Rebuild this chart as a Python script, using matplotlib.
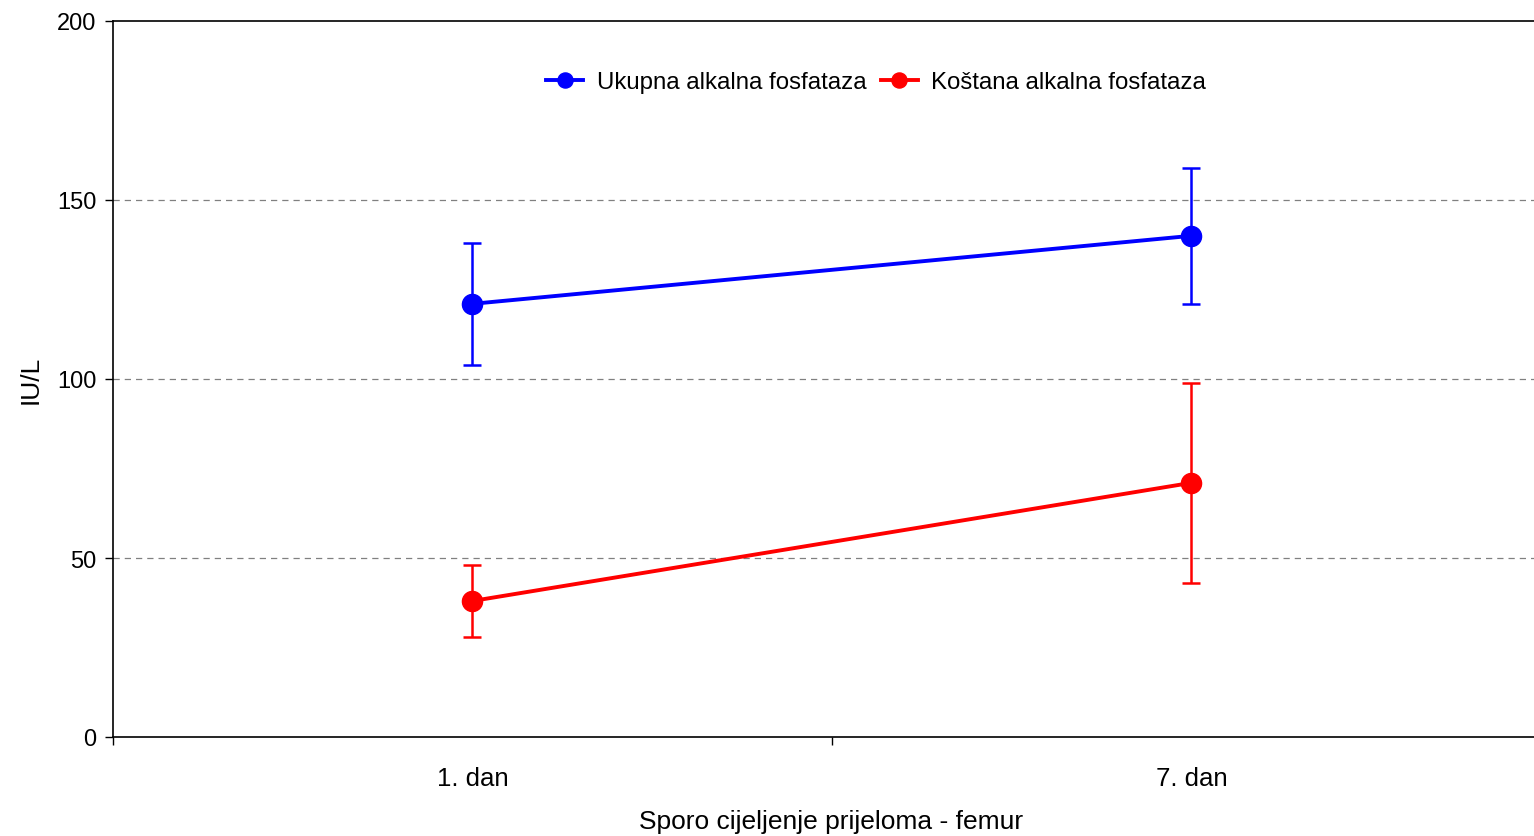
import matplotlib
matplotlib.use("Agg")
import matplotlib.pyplot as plt

categories = ["1. dan", "7. dan"]
ukupna = [121, 140]
ukupna_err_low = [104, 121]
ukupna_err_high = [138, 159]
kostana = [38, 71]
kostana_err_low = [28, 43]
kostana_err_high = [48, 99]

plt.rcParams["font.family"] = ["Liberation Sans", "DejaVu Sans"]

W, H = 1534, 837
fig = plt.figure(figsize=(W / 100, H / 100), dpi=100)
ax = fig.add_axes([113 / W, (H - 738) / H, (1551 - 113) / W, (738 - 22) / H])

x = [0.5, 1.5]
series = [
    ("Ukupna alkalna fosfataza", ukupna, ukupna_err_low, ukupna_err_high, "#0000ff"),
    ("Koštana alkalna fosfataza", kostana, kostana_err_low, kostana_err_high, "#ff0000"),
]
for label, vals, lo, hi, color in series:
    yerr = [[v - l for v, l in zip(vals, lo)], [h - v for v, h in zip(vals, hi)]]
    ax.errorbar(x, vals, yerr=yerr, fmt="none", ecolor=color, elinewidth=1.8,
                capsize=6.5, capthick=1.8, zorder=2)
    ax.plot(x, vals, color=color, lw=2.8, marker="o", markersize=14.5, label=label, zorder=3)

ax.set_xlim(0, 2)
ax.set_ylim(0, 200)
ax.set_yticks([0, 50, 100, 150, 200])
ax.set_xticks([0, 1, 2])
ax.set_xticklabels([])
ax.set_xticks(x, minor=True)
ax.set_xticklabels(categories, minor=True)
ax.tick_params(axis="x", which="minor", length=0, pad=21, labelsize=18.5)
ax.tick_params(axis="x", which="major", direction="out", length=6, width=1)
ax.tick_params(axis="y", direction="out", length=6, width=1, labelsize=17, pad=6)

for yv in [50, 100, 150]:
    ax.axhline(yv, color="#808080", lw=0.9, ls=(0, (5, 4)), zorder=1)

for s in ["top", "left", "bottom"]:
    ax.spines[s].set_linewidth(1.2)
ax.spines["right"].set_visible(False)

ax.set_ylabel("IU/L", fontsize=19, labelpad=10)
ax.set_xlabel("Sporo cijeljenje prijeloma - femur", fontsize=19)
ax.xaxis.set_label_coords((831 - 113) / (1551 - 113), -0.1)

ax.legend(loc="upper center", bbox_to_anchor=((876 - 113) / (1551 - 113), 0.96),
          ncol=2, frameon=False, fontsize=17.3, handlelength=1.55, handletextpad=0.55,
          columnspacing=0.6, markerscale=0.75)

fig.savefig("out.png", dpi=100)
